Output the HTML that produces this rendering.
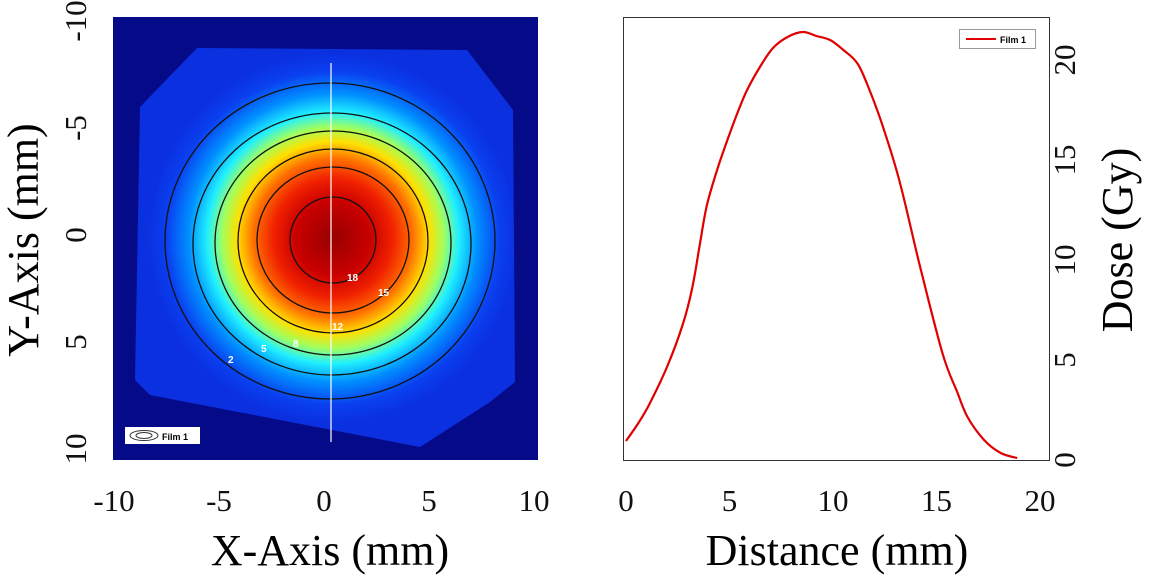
<!DOCTYPE html>
<html><head><meta charset="utf-8"><style>
body{margin:0;background:#fff;width:1152px;height:576px;overflow:hidden;font-family:"Liberation Serif",serif}
</style></head><body>
<svg width="1152" height="576" viewBox="0 0 1152 576" xmlns="http://www.w3.org/2000/svg">
<defs>
<radialGradient id="jet" cx="333" cy="238" r="185" gradientUnits="userSpaceOnUse">
<stop offset="0" stop-color="#980000"/>
<stop offset="0.2" stop-color="#c80000"/>
<stop offset="0.32" stop-color="#f02000"/>
<stop offset="0.43" stop-color="#ff7000"/>
<stop offset="0.52" stop-color="#ffe000"/>
<stop offset="0.6" stop-color="#a0ff60"/>
<stop offset="0.68" stop-color="#20f0ff"/>
<stop offset="0.78" stop-color="#0090ff"/>
<stop offset="0.9" stop-color="#0a40f0"/>
<stop offset="1" stop-color="#0a30e0"/>
</radialGradient>
</defs>
<g>
<rect x="113" y="17" width="425" height="443" fill="#050a88"/>
<polygon points="140,107 197,48 467,50 513,110 515,382 490,402 420,447 150,395 135,380" fill="url(#jet)"/>
<g fill="none" stroke="#111" stroke-width="1.3">
<ellipse cx="330" cy="241" rx="165" ry="158"/>
<ellipse cx="332" cy="244" rx="139" ry="131"/>
<ellipse cx="333" cy="243" rx="118" ry="112"/>
<ellipse cx="333" cy="241" rx="95" ry="92"/>
<ellipse cx="333" cy="240" rx="76" ry="73"/>
<ellipse cx="333" cy="240" rx="43" ry="43"/>
</g>
<g fill="#fff" font-family="Liberation Sans,sans-serif" font-weight="bold" font-size="10">
<text x="347" y="281">18</text>
<text x="378" y="296">15</text>
<text x="332" y="330">12</text>
<text x="293" y="347">8</text>
<text x="261" y="352">5</text>
<text x="228" y="363">2</text>
</g>
<line x1="331" y1="63" x2="331" y2="442" stroke="#fff" stroke-width="1.2"/>
<g>
<rect x="125" y="427" width="75" height="17" fill="#fff"/>
<ellipse cx="144" cy="435.5" rx="14" ry="5" fill="none" stroke="#333"/>
<ellipse cx="144" cy="435.5" rx="8" ry="3" fill="none" stroke="#333"/>
<text x="162" y="440" font-family="Liberation Sans,sans-serif" font-weight="bold" font-size="9">Film 1</text>
</g>
</g>
<g font-size="31" fill="#111" id="leftAxes"></g>
<text x="330" y="565" text-anchor="middle" font-size="44">X-Axis (mm)</text>
<text transform="translate(38,240) rotate(-90)" text-anchor="middle" font-size="44">Y-Axis (mm)</text>

<rect x="623.5" y="17.5" width="426" height="443" fill="#fff" stroke="#333" stroke-width="1"/>
<path id="curve" fill="none" stroke="#e00000" stroke-width="2.2"/>
<g>
<rect x="959.5" y="29.5" width="76" height="19" fill="#fff" stroke="#999"/>
<line x1="966" y1="39" x2="996" y2="39" stroke="#e00000" stroke-width="2"/>
<text x="1000" y="43" font-family="Liberation Sans,sans-serif" font-weight="bold" font-size="9">Film 1</text>
</g>
<g font-size="31" fill="#111" id="rightAxes"></g>
<text x="837" y="565" text-anchor="middle" font-size="44">Distance (mm)</text>
<text transform="translate(1132,240) rotate(-90)" text-anchor="middle" font-size="44">Dose (Gy)</text>
</svg>
<script>
const mapXTicks=[-10,-5,0,5,10];
const mapYTicks=[-10,-5,0,5,10];
const distance=[0,0.6,1.16,2,2.75,3.2,3.57,3.9,4.4,4.9,5.4,5.85,6.5,7.1,7.8,8.55,9.2,9.86,10.5,11.2,11.8,12.4,13.2,14.2,15.3,16,16.5,17.3,18.1,18.9];
const dose=[0.95,1.85,2.85,4.7,6.8,8.6,10.8,12.7,14.5,16,17.4,18.5,19.7,20.6,21.15,21.4,21.2,21,20.5,19.8,18.4,16.7,14,9.7,5.3,3.4,2.15,1,0.35,0.1];
const distTicks=[0,5,10,15,20];
const doseTicks=[0,5,10,15,20];
const NS="http://www.w3.org/2000/svg";
const mx=v=>324+v*21, my=v=>235+v*21.4;
const px=v=>626+v*20.7, py=v=>460-v*20;
function txt(g,x,y,s,rot){const t=document.createElementNS(NS,'text');t.setAttribute('text-anchor','middle');
if(rot){t.setAttribute('transform','translate('+x+','+y+') rotate(-90)');}else{t.setAttribute('x',x);t.setAttribute('y',y);}
t.textContent=s;g.appendChild(t);return t;}
const la=document.getElementById('leftAxes'),ra=document.getElementById('rightAxes');
mapXTicks.forEach(v=>{const t=txt(la,mx(v),511,String(v));

});
mapYTicks.forEach(v=>{const t=txt(la,86,my(v),String(v),true);

});
distTicks.forEach(v=>{const t=txt(ra,px(v),511,String(v));

});
doseTicks.forEach(v=>{const t=txt(ra,1075,py(v),String(v),true);

});
const P=distance.map((x,i)=>[px(x),py(dose[i])]);
let d='M'+P[0][0].toFixed(1)+','+P[0][1].toFixed(1);
for(let i=0;i<P.length-1;i++){const p0=P[Math.max(0,i-1)],p1=P[i],p2=P[i+1],p3=P[Math.min(P.length-1,i+2)];
const c1=[p1[0]+(p2[0]-p0[0])/6,p1[1]+(p2[1]-p0[1])/6],c2=[p2[0]-(p3[0]-p1[0])/6,p2[1]-(p3[1]-p1[1])/6];
d+='C'+c1.map(n=>n.toFixed(1)).join(',')+' '+c2.map(n=>n.toFixed(1)).join(',')+' '+p2.map(n=>n.toFixed(1)).join(',');}
document.getElementById('curve').setAttribute('d',d);
</script>
</body></html>
